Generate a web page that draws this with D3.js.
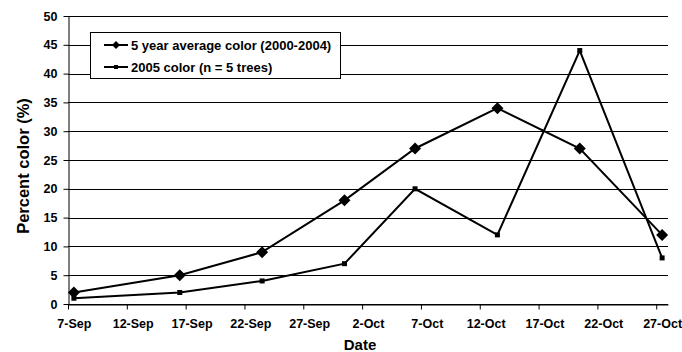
<!DOCTYPE html>
<html>
<head>
<meta charset="utf-8">
<script src="https://cdn.jsdelivr.net/npm/d3@7"></script>
<style>
  html, body { margin: 0; padding: 0; background: #fff; }
  svg { display: block; font-family: "Liberation Sans", Arial, sans-serif; font-weight: bold; }
</style>
</head>
<body>
<svg id="chart" width="682" height="352"></svg>
<script>
// Observation dates (2005 calendar, one per survey week)
const dates = ["2005-09-07", "2005-09-16", "2005-09-23", "2005-09-30",
               "2005-10-06", "2005-10-13", "2005-10-20", "2005-10-27"];
// Percent of leaves showing colour
const avgColor = [2, 5, 9, 18, 27, 34, 27, 12];     // 5 year average (2000-2004)
const color2005 = [1, 2, 4, 7, 20, 12, 44, 8];       // 2005, n = 5 trees
const seriesNames = ["5 year average color (2000-2004)", "2005 color (n = 5 trees)"];
const xTickDates = ["2005-09-07", "2005-09-12", "2005-09-17", "2005-09-22", "2005-09-27",
                    "2005-10-02", "2005-10-07", "2005-10-12", "2005-10-17", "2005-10-22", "2005-10-27"];
const yTicks = [0, 5, 10, 15, 20, 25, 30, 35, 40, 45, 50];

const parse = d3.utcParse("%Y-%m-%d");
const fmt = d3.utcFormat("%-d-%b");
const HALF_DAY = 12 * 3600 * 1000;

const svg = d3.select("#chart");
const m = { left: 68, right: 14, top: 16, bottom: 48 };
const W = 682, H = 352;
const FONT = "Liberation Sans, Arial, sans-serif";

const x = d3.scaleUtc()
  .domain([parse("2005-09-07"), parse("2005-10-28")])
  .range([m.left, W - m.right]);
const y = d3.scaleLinear().domain([0, 50]).range([H - m.bottom, m.top]);

// horizontal gridlines
svg.append("g")
  .selectAll("line")
  .data(yTicks)
  .join("line")
  .attr("x1", m.left).attr("x2", W - m.right)
  .attr("y1", d => Math.round(y(d)) + 0.5).attr("y2", d => Math.round(y(d)) + 0.5)
  .attr("stroke", "#000").attr("stroke-width", 1);

// y axis
const yAxis = svg.append("g")
  .attr("transform", `translate(${m.left + 0.5},0)`)
  .call(d3.axisLeft(y).tickValues(yTicks).tickSize(5).tickPadding(6).tickSizeOuter(0));
yAxis.select(".domain").attr("stroke", "#000");
yAxis.selectAll("text").attr("font-size", 12.5).attr("font-weight", "bold")
  .attr("font-family", FONT).attr("fill", "#000");

// x axis: ticks at day boundaries, labels centred on the day
const xAxis = svg.append("g")
  .attr("transform", `translate(0,${Math.round(y(0)) + 0.5})`)
  .call(d3.axisBottom(x).tickValues(xTickDates.map(parse)).tickFormat(fmt)
    .tickSize(5).tickPadding(10).tickSizeOuter(0));
xAxis.select(".domain").attr("stroke", "#000");
xAxis.selectAll("text").attr("font-size", 12.5).attr("font-weight", "bold")
  .attr("font-family", FONT).attr("fill", "#000")
  .attr("dx", x(new Date(parse("2005-09-07").getTime() + HALF_DAY)) - x(parse("2005-09-07")));

// axis titles
svg.append("text")
  .attr("x", 360).attr("y", 350)
  .attr("text-anchor", "middle").attr("font-size", 15).text("Date");
svg.append("text")
  .attr("transform", `translate(29,${(m.top + H - m.bottom) / 2 + 6}) rotate(-90)`)
  .attr("text-anchor", "middle").attr("font-size", 16.5).text("Percent color (%)");

// series
const pts = vals => dates.map((d, i) => ({ t: new Date(parse(d).getTime() + HALF_DAY), v: vals[i] }));
const line = d3.line().x(d => x(d.t)).y(d => y(d.v));
const s1 = pts(avgColor), s2 = pts(color2005);

svg.append("path").datum(s2).attr("d", line)
  .attr("fill", "none").attr("stroke", "#000").attr("stroke-width", 2).attr("stroke-linejoin", "miter");
svg.append("path").datum(s1).attr("d", line)
  .attr("fill", "none").attr("stroke", "#000").attr("stroke-width", 2).attr("stroke-linejoin", "miter");

const diamond = (cx, cy, r) => `M${cx},${cy - r}L${cx + r},${cy}L${cx},${cy + r}L${cx - r},${cy}Z`;
svg.append("g").selectAll("path").data(s1).join("path")
  .attr("d", d => diamond(x(d.t), y(d.v), 6)).attr("fill", "#000");
svg.append("g").selectAll("rect").data(s2).join("rect")
  .attr("x", d => x(d.t) - 2.5).attr("y", d => y(d.v) - 2.5)
  .attr("width", 5).attr("height", 5).attr("fill", "#000");

// legend
const lg = svg.append("g");
lg.append("rect").attr("x", 90.5).attr("y", 32.5).attr("width", 250).attr("height", 46)
  .attr("fill", "#fff").attr("stroke", "#000").attr("stroke-width", 1);
const rows = [{ y: 45, mark: "diamond" }, { y: 67, mark: "square" }];
rows.forEach((r, i) => {
  lg.append("line").attr("x1", 104).attr("x2", 128).attr("y1", r.y).attr("y2", r.y)
    .attr("stroke", "#000").attr("stroke-width", 2);
  if (r.mark === "diamond") {
    lg.append("path").attr("d", diamond(116, r.y, 4)).attr("fill", "#000");
  } else {
    lg.append("rect").attr("x", 114).attr("y", r.y - 2).attr("width", 4).attr("height", 4).attr("fill", "#000");
  }
  lg.append("text").attr("x", 131).attr("y", r.y + 4.5).attr("font-size", 13).text(seriesNames[i]);
});
</script>
</body>
</html>
